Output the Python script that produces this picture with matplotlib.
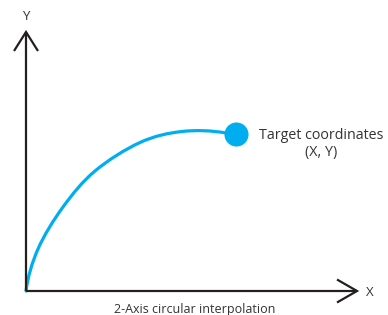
import matplotlib
matplotlib.use('Agg')
import matplotlib.pyplot as plt
from matplotlib.path import Path
from matplotlib.patches import PathPatch

# diagram drawn in pixel space (y grows downward)
origin = (26, 291)
y_axis_end = 32
x_axis_end = 357

# path of the circular-interpolation move
path_x = [26, 38, 63, 95, 140, 182, 226]
path_y = [291, 249, 207, 171, 142.5, 131.5, 133]

target = (236, 134)

axis_labels = ['X', 'Y']
target_label = 'Target coordinates\n(X, Y)'
caption = '2-Axis circular interpolation'

line_style = {
    'color': '#231f20',
    'linewidth': 1.6,
    'solid_capstyle': 'butt',
}
text_style = {
    'color': '#333333',
    'family': ['Open Sans', 'DejaVu Sans'],
}
blue = '#00aeef'


def smooth_path(xs, ys):
    # catmull-rom through the read points, as cubic bezier pieces
    pts = list(zip(xs, ys))
    # extrapolated end points so the ends keep their curvature
    first = tuple(3 * a - 3 * b + c for a, b, c in zip(pts[0], pts[1], pts[2]))
    last = tuple(3 * a - 3 * b + c for a, b, c in zip(pts[-1], pts[-2], pts[-3]))
    pts = [first] + pts + [last]
    verts = [pts[1]]
    codes = [Path.MOVETO]
    for i in range(1, len(pts) - 2):
        p0, p1, p2, p3 = pts[i - 1], pts[i], pts[i + 1], pts[i + 2]
        c1 = (p1[0] + (p2[0] - p0[0]) / 6, p1[1] + (p2[1] - p0[1]) / 6)
        c2 = (p2[0] - (p3[0] - p1[0]) / 6, p2[1] - (p3[1] - p1[1]) / 6)
        verts += [c1, c2, p2]
        codes += [Path.CURVE4] * 3
    return Path(verts, codes)


fig = plt.figure(figsize=(3.88, 3.15), dpi=100)
ax = fig.add_axes([0, 0, 1, 1])
ax.set_xlim(0, 388)
ax.set_ylim(315, 0)
ax.axis('off')

ox, oy = origin
# axes lines
ax.plot([ox, ox], [oy, y_axis_end], **line_style)
ax.plot([ox, x_axis_end], [oy, oy], **line_style)
# open chevron arrow heads
ax.plot([ox - 12, ox, ox + 12], [y_axis_end + 19, y_axis_end, y_axis_end + 19],
        solid_joinstyle='miter', **line_style)
ax.plot([x_axis_end - 20, x_axis_end, x_axis_end - 20], [oy - 11.5, oy, oy + 11.5],
        solid_joinstyle='miter', **line_style)

ax.text(x_axis_end + 13, oy + 1, axis_labels[0], ha='center', va='center', fontsize=9.5, **text_style)
ax.text(ox, 16.5, axis_labels[1], ha='center', va='center', fontsize=9.5, **text_style)

# interpolation path + target point
ax.add_patch(PathPatch(smooth_path(path_x, path_y), facecolor='none', edgecolor=blue,
                       linewidth=2.3, capstyle='round'))
ax.scatter([target[0]], [target[1]], s=300, color=blue, zorder=3, linewidths=0)

ax.text(321, 144, target_label, ha='center', va='center', fontsize=10.3,
        linespacing=1.2, **text_style)
ax.text(195, 309, caption, ha='center', va='center', fontsize=9, **text_style)

fig.savefig('out.png', dpi=100)
